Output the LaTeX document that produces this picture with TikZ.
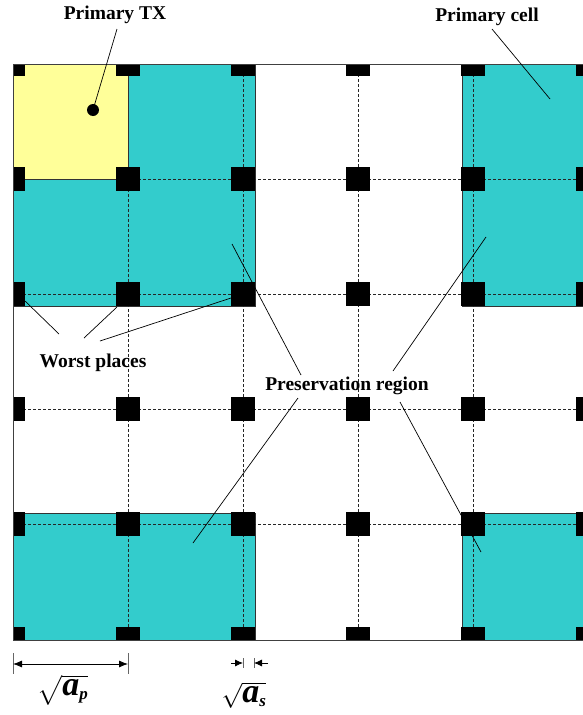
\documentclass[tikz,border=0pt]{standalone}
\usepackage{amsmath}
\usepackage{fontspec}
\setmainfont{Liberation Serif}
\usetikzlibrary{arrows.meta}
\definecolor{cellcyan}{HTML}{33CCCC}
\definecolor{txyellow}{HTML}{FFFF99}
\begin{document}
\begin{tikzpicture}[x=1pt,y=-1pt,
  lbl/.style={font=\bfseries\fontsize{19.5}{22}\selectfont, inner sep=0pt},
  mathlbl/.style={font=\fontsize{34}{38}\selectfont, inner sep=0pt},
  region/.style={fill=cellcyan, draw=black!80, line width=0.8pt},
  txcell/.style={fill=txyellow, draw=black!80, line width=0.8pt},
  gridline/.style={dash pattern=on 3pt off 2pt, line width=0.6pt, black!85},
  leader/.style={line width=0.7pt},
  dimarrow/.style={line width=0.8pt, {Latex[length=9pt,width=7pt]}-{Latex[length=9pt,width=7pt]}},
  halfarrow/.style={line width=0.8pt, -{Latex[length=8pt,width=7pt]}},
  tickline/.style={line width=0.8pt, black!60}]
\useasboundingbox (0,0) rectangle (583,715);
\fill[white] (0,0) rectangle (583,715);
\begin{scope}
  \clip (13,64) rectangle (583,640);
  % preservation / primary cell regions
  \draw[region] (13,64) rectangle (255,306);
  \draw[region] (462,64) rectangle (600,306);
  \draw[region] (13,513) rectangle (255,650);
  \draw[region] (462,513) rectangle (600,650);
  % dashed grid
  \foreach \x in {128,243,358,473} \draw[gridline] (\x,64) -- (\x,640);
  \foreach \y in {179,294,409,524} \draw[gridline] (13,\y) -- (583,\y);
  % primary TX cell
  \draw[txcell] (13,64) rectangle (128,179);
  % worst-place squares
  \foreach \x in {13,128,243,358,473,588}
    \foreach \y in {64,179,294,409,524,639}
      \fill ({\x-12},{\y-12}) rectangle ({\x+12},{\y+12});
\end{scope}
% outer frame
\draw[line width=1pt, black!75] (583,64) -- (13,64) -- (13,640) -- (583,640);

% primary TX
\node[circle, fill=black, inner sep=0pt, minimum size=12pt] (tx) at (93,110) {};
\node[lbl] (ptx) at (115,15) {Primary TX};
\coordinate (ptxA) at (117,29);
\draw[leader] (ptxA) -- (tx.center);

% primary cell
\node[lbl] (pcell) at (487,17) {Primary cell};
\coordinate (pcellA) at (492,29);
\coordinate (pcellB) at (550,99);
\draw[leader] (pcellA) -- (pcellB);

% worst places
\node[lbl] (worst) at (93,363) {Worst places};
\coordinate (w1a) at (59,334);  \coordinate (w1b) at (25,301);
\coordinate (w2a) at (84,338);  \coordinate (w2b) at (117,307);
\coordinate (w3a) at (100,341); \coordinate (w3b) at (231,298);
\draw[leader] (w1a) -- (w1b);
\draw[leader] (w2a) -- (w2b);
\draw[leader] (w3a) -- (w3b);

% preservation region
\node[lbl] (pres) at (347,386) {Preservation region};
\coordinate (p1a) at (301,375); \coordinate (p1b) at (232,244);
\coordinate (p2a) at (393,371); \coordinate (p2b) at (486,237);
\coordinate (p3a) at (298,398); \coordinate (p3b) at (193,543);
\coordinate (p4a) at (400,402); \coordinate (p4b) at (481,552);
\draw[leader] (p1a) -- (p1b);
\draw[leader] (p2a) -- (p2b);
\draw[leader] (p3a) -- (p3b);
\draw[leader] (p4a) -- (p4b);

% dimension sqrt(a_p)
\coordinate (apL) at (13,664);
\coordinate (apR) at (128,664);
\draw[tickline] (13,653) -- (13,674);
\draw[tickline] (128,653) -- (128,674);
\draw[dimarrow] (apL) -- (apR);
\node[mathlbl] (aplbl) at (63,690) {$\sqrt{\text{\bfseries\itshape a}_{\scriptscriptstyle\text{\bfseries\itshape p}}}$};

% dimension sqrt(a_s)
\coordinate (asL0) at (231,663); \coordinate (asL) at (243,663);
\coordinate (asR0) at (268,663); \coordinate (asR) at (254,663);
\draw[tickline] (243,658) -- (243,668);
\draw[tickline] (254,658) -- (254,668);
\draw[halfarrow] (asL0) -- (asL);
\draw[halfarrow] (asR0) -- (asR);
\node[mathlbl] (aslbl) at (244,695) {$\sqrt{\text{\bfseries\itshape a}_{\scriptscriptstyle\text{\bfseries\itshape s}}}$};
\end{tikzpicture}
\end{document}
